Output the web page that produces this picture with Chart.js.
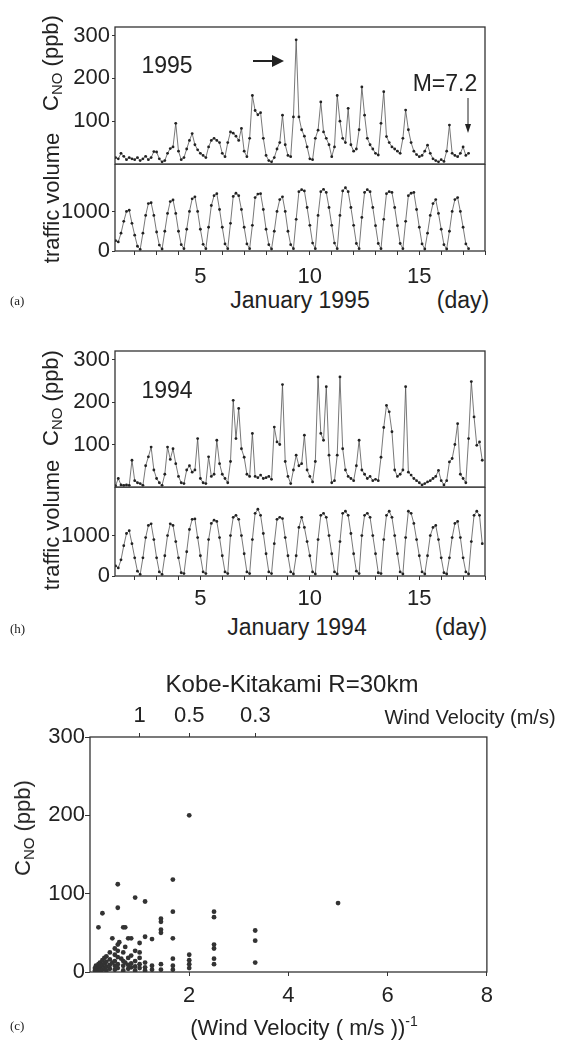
<!DOCTYPE html>
<html>
<head>
<meta charset="utf-8">
<script src="https://cdn.jsdelivr.net/npm/chart.js@4.4.0/dist/chart.umd.min.js"></script>
<style>
  body { margin: 0; background: #fff; }
  #page { position: relative; width: 564px; height: 1045px; overflow: hidden; }
  canvas { position: absolute; }
  .t { position: absolute; font-family: "Liberation Sans", Arial, sans-serif; font-size: 22px; color: #222; white-space: nowrap; line-height: 1; transform: translate(-50%, -50%); }
  .r { transform: translate(-50%, -50%) rotate(-90deg); }
  .tag { font-family: "Liberation Serif", serif; font-size: 13px; transform: translate(0, -50%); }
  .t sub { font-size: 15px; vertical-align: -4px; }
  .t sup { font-size: 14px; vertical-align: 9px; }
  svg { position: absolute; left: 0; top: 0; }
</style>
</head>
<body>
<div id="page">
  <canvas id="cnoA" width="495" height="170" style="left:0;top:0"></canvas>
  <canvas id="trA" width="495" height="120" style="left:0;top:164px"></canvas>
  <canvas id="cnoB" width="495" height="163" style="left:0;top:330px"></canvas>
  <canvas id="trB" width="495" height="120" style="left:0;top:487px"></canvas>
  <canvas id="scC" width="500" height="350" style="left:0;top:690px"></canvas>

  <!-- panel (a) -->
  <div class="t r" style="left:52px;top:63px">C<sub>NO</sub> (ppb)</div>
  <div class="t r" style="left:52px;top:198px">traffic volume</div>
  <div class="t" style="left:167px;top:65px;font-size:23px">1995</div>
  <div class="t" style="left:445px;top:83px;font-size:23px">M=7.2</div>
  <div class="t" style="left:300px;top:300px;font-size:23px">January 1995</div>
  <div class="t" style="left:463px;top:300px;font-size:23px">(day)</div>
  <div class="t tag" style="left:10px;top:300px">(a)</div>

  <!-- panel (b) -->
  <div class="t r" style="left:52px;top:398px">C<sub>NO</sub> (ppb)</div>
  <div class="t r" style="left:52px;top:525px">traffic volume</div>
  <div class="t" style="left:167px;top:390px;font-size:23px">1994</div>
  <div class="t" style="left:297px;top:627px;font-size:23px">January 1994</div>
  <div class="t" style="left:461px;top:627px;font-size:23px">(day)</div>
  <div class="t tag" style="left:10px;top:628px">(h)</div>

  <!-- panel (c) -->
  <div class="t" style="left:292px;top:684px;font-size:24px">Kobe-Kitakami R=30km</div>
  <div class="t" style="left:470px;top:717px;font-size:20px">Wind Velocity (m/s)</div>
  <div class="t r" style="left:24px;top:828px">C<sub>NO</sub> (ppb)</div>
  <div class="t" style="left:304px;top:1026px">(Wind Velocity ( m/s ))<sup>-1</sup></div>
  <div class="t tag" style="left:10px;top:1025px">(c)</div>

  <svg width="564" height="1045">
    <line x1="253" y1="61" x2="274" y2="61" stroke="#222" stroke-width="2"/>
    <polygon points="284,61 272,55 272,67" fill="#222"/>
    <line x1="468" y1="98" x2="468" y2="126" stroke="#222" stroke-width="1"/>
    <polygon points="468,133 465,124 471,124" fill="#222"/>
  </svg>
</div>

<script>
// 3-hourly readings, first point at day 1.125
const t0 = 1.125, dt = 0.125;

const no1995 = [
  15, 12, 25, 18, 10, 15, 12,
  10, 15, 8, 12, 18, 10, 15, 29,
  28, 12, 5, 8, 25, 36, 40, 95,
  30, 10, 15, 35, 55, 71, 45, 33,
  25, 20, 15, 40, 55, 60, 55, 50,
  25, 17, 50, 75, 72, 65, 55, 83,
  30, 17, 60, 160, 125, 115, 120, 60,
  20, 8, 5, 15, 35, 50, 114, 45,
  20, 17, 110, 290, 110, 80, 65, 40,
  12, 10, 60, 79, 145, 75, 60, 45,
  17, 40, 160, 100, 60, 50, 130, 45,
  30, 35, 80, 180, 114, 60, 45, 35,
  25, 21, 95, 169, 64, 50, 40, 35,
  30, 25, 60, 126, 80, 50, 30, 22,
  17, 20, 30, 44, 25, 12, 8, 5,
  10, 6, 30, 91, 25, 20, 17, 25,
  40, 20, 25
];
const traffic1995 = [
  260, 230, 450, 750, 1000, 1030, 700,
  400, 120, 40, 450, 900, 1200, 1220, 900,
  480, 150, 50, 500, 950, 1250, 1290, 950,
  500, 160, 60, 550, 1000, 1320, 1370, 1000,
  550, 170, 60, 600, 1150, 1400, 1450, 1050,
  600, 180, 60, 700, 1380, 1460, 1400, 1050,
  600, 180, 60, 650, 1350, 1440, 1450, 1050,
  550, 160, 50, 500, 1000, 1300, 1370, 1000,
  500, 160, 60, 800, 1500, 1550, 1520, 1100,
  650, 200, 60, 900, 1500, 1560, 1480, 1100,
  650, 200, 60, 900, 1520, 1600, 1500, 1100,
  650, 190, 60, 850, 1480, 1550, 1500, 1100,
  640, 190, 60, 800, 1450, 1500, 1480, 1100,
  640, 190, 60, 750, 1400, 1460, 1480, 1050,
  600, 180, 50, 450, 900, 1200, 1300, 950,
  550, 160, 50, 500, 1000, 1300, 1350, 1000,
  600, 180, 60
];

const no1994 = [
  3, 20, 5, 4, 5, 4, 63,
  15, 10, 8, 4, 50, 71, 94, 40,
  20, 10, 4, 30, 94, 65, 90, 55,
  25, 10, 8, 40, 50, 35, 40, 114,
  20, 10, 8, 71, 25, 30, 110, 55,
  30, 20, 10, 60, 204, 114, 185, 90,
  70, 30, 25, 126, 25, 22, 28, 20,
  22, 25, 18, 141, 106, 100, 241, 60,
  25, 8, 40, 75, 50, 55, 122, 40,
  25, 12, 60, 259, 126, 110, 236, 75,
  10, 15, 75, 259, 90, 40, 25, 20,
  15, 50, 110, 40, 30, 20, 25, 15,
  18, 15, 70, 140, 192, 177, 130, 40,
  25, 30, 40, 236, 35, 28, 20, 15,
  10, 5, 8, 12, 15, 20, 25, 39,
  15, 5, 15, 59, 67, 100, 149, 30,
  20, 10, 114, 248, 165, 98, 106, 63
];
const traffic1994 = [
  250, 200, 400, 750, 1050, 1120, 800,
  450, 120, 40, 450, 950, 1250, 1290, 900,
  450, 100, 40, 500, 1000, 1290, 1250, 850,
  450, 80, 60, 600, 1150, 1400, 1410, 950,
  500, 100, 60, 900, 1300, 1380, 1350, 950,
  500, 100, 60, 1000, 1450, 1500, 1400, 1000,
  550, 100, 60, 900, 1550, 1650, 1500, 1050,
  550, 100, 60, 800, 1400, 1450, 1420, 950,
  500, 100, 50, 500, 1200, 1450, 1200, 850,
  500, 100, 50, 900, 1500, 1550, 1450, 1000,
  550, 100, 50, 850, 1550, 1600, 1500, 1050,
  550, 120, 60, 1000, 1500, 1550, 1450, 1000,
  550, 80, 60, 900, 1500, 1600, 1450, 1000,
  550, 100, 50, 950, 1600, 1550, 1300, 900,
  500, 100, 50, 500, 1000, 1200, 1250, 900,
  450, 80, 50, 450, 950, 1300, 1350, 950,
  450, 100, 50, 850, 1500, 1600, 1500, 800
];

// scatter (c): inverse wind velocity vs C_NO
const windInv = [
  0.1, 0.1, 0.12, 0.12, 0.14, 0.14, 0.17, 0.17, 0.2, 0.2, 0.2, 0.22, 0.25, 0.25, 0.25,
  0.29, 0.29, 0.29, 0.33, 0.33, 0.33, 0.33, 0.4, 0.4, 0.4, 0.4, 0.45, 0.5, 0.5, 0.5, 0.5, 0.5,
  0.56, 0.56, 0.56, 0.63, 0.67, 0.67, 0.67, 0.67, 0.71, 0.77, 0.77, 0.77, 0.83, 0.83, 0.83,
  0.91, 0.91, 0.91, 0.91, 1.0, 1.0, 1.0, 1.11, 1.11, 1.11, 1.25, 1.25, 1.43, 1.43, 1.67,
  0.17, 0.25, 0.45, 0.56, 0.56, 0.56, 0.56, 0.59, 0.67, 0.71, 0.71, 0.77, 0.83, 0.91, 1.0, 1.0,
  1.11, 1.11, 1.25, 1.43, 1.43, 1.43, 1.43, 1.67, 1.67, 1.67, 1.67, 1.67, 2, 2, 2, 2, 2,
  2.5, 2.5, 2.5, 2.5, 2.5, 2.5, 3.33, 3.33, 3.33, 5
];
const windNO = [
  2, 5, 8, 3, 6, 1, 10, 4, 12, 6, 2, 8, 15, 9, 3,
  18, 11, 5, 20, 13, 7, 2, 25, 16, 9, 4, 12, 30, 22, 14, 8, 3,
  19, 10, 5, 17, 25, 14, 8, 2, 12, 18, 9, 4, 21, 11, 6,
  27, 14, 7, 2, 18, 10, 5, 12, 6, 2, 8, 3, 10, 3, 3,
  57, 75, 43, 112, 82, 35, 27, 38, 57, 57, 32, 43, 43, 95, 37, 25,
  90, 45, 42, 68, 64, 54, 50, 118, 77, 43, 17, 8, 200, 22, 15, 10, 5,
  77, 70, 35, 30, 17, 10, 53, 40, 12, 88
];

const dayTicks = [2, 3, 4, 5, 6, 7, 8, 9, 10, 11, 12, 13, 14, 15, 16, 17, 18];
const noTicks = [100, 200, 300];
const trafficTicks = [0, 1000];
const cTicksX = [2, 4, 6, 8];
const cTicksY = [0, 100, 200, 300];
const windVel = [1, 0.5, 0.3];

const ink = "#222";
const font = { family: "'Liberation Sans', Arial, sans-serif", size: 22 };

// draws the closed box round the plot area
const frame = {
  id: "frame",
  afterDraw(chart) {
    const a = chart.chartArea, ctx = chart.ctx;
    ctx.save();
    ctx.strokeStyle = "#333";
    ctx.lineWidth = 1.3;
    ctx.strokeRect(a.left, a.top, a.right - a.left, a.bottom - a.top);
    ctx.restore();
  }
};

const toPts = vals => vals.map((v, i) => ({ x: t0 + i * dt, y: v }));
const setTicks = list => s => { s.ticks = list.map(v => ({ value: v })); };

function seriesChart(id, vals, ymax, yTicks, pad, xHeight, xPad) {
  return new Chart(document.getElementById(id), {
    type: "line",
    data: {
      datasets: [{
        data: toPts(vals),
        borderColor: "#555",
        borderWidth: 0.8,
        pointRadius: 1.4,
        pointBackgroundColor: ink,
        pointBorderWidth: 0,
        tension: 0
      }]
    },
    options: {
      responsive: false,
      animation: false,
      devicePixelRatio: 1,
      layout: { padding: pad, autoPadding: false },
      plugins: { legend: { display: false }, tooltip: { enabled: false } },
      scales: {
        x: {
          type: "linear",
          min: 1.1,
          max: 18,
          display: xHeight > 0,
          afterBuildTicks: setTicks(dayTicks),
          afterFit: s => { s.height = xHeight; s.paddingLeft = 0; s.paddingRight = 0; },
          ticks: { callback: v => (v % 5 === 0 ? String(v) : ""), font, color: ink, padding: xPad, maxRotation: 0, autoSkip: false },
          grid: { drawOnChartArea: false, tickLength: 4, color: "#333" },
          border: { display: false }
        },
        y: {
          min: 0,
          max: ymax,
          afterBuildTicks: setTicks(yTicks),
          afterFit: s => { s.width = 115; s.paddingTop = 0; s.paddingBottom = 0; },
          ticks: { callback: v => String(v), font, color: ink, padding: 2 },
          grid: { drawOnChartArea: false, tickLength: 3, color: "#333" },
          border: { display: false }
        }
      }
    },
    plugins: [frame]
  });
}

seriesChart("cnoA", no1995, 320, noTicks, { top: 27, right: 10, bottom: 6, left: 0 }, 0, 0);
seriesChart("trA", traffic1995, 2200, trafficTicks, { top: 0, right: 10, bottom: 0, left: 0 }, 33, 9);
seriesChart("cnoB", no1994, 320, noTicks, { top: 21, right: 10, bottom: 6, left: 0 }, 0, 0);
seriesChart("trB", traffic1994, 2200, trafficTicks, { top: 0, right: 10, bottom: 0, left: 0 }, 31, 6);

/* Scatter (c) */
new Chart(document.getElementById("scC"), {
  type: "scatter",
  data: {
    datasets: [{
      data: windInv.map((x, i) => ({ x, y: windNO[i] })),
      pointRadius: 2.4,
      backgroundColor: "#333",
      borderWidth: 0
    }]
  },
  options: {
    responsive: false,
    animation: false,
    devicePixelRatio: 1,
    layout: { padding: { top: 0, right: 10, bottom: 0, left: 0 }, autoPadding: false },
    plugins: { legend: { display: false }, tooltip: { enabled: false } },
    scales: {
      x: {
        type: "linear",
        min: 0,
        max: 8,
        afterBuildTicks: setTicks(cTicksX),
        afterFit: s => { s.height = 68; },
        ticks: { font, color: ink, padding: 7, maxRotation: 0 },
        grid: { drawOnChartArea: false, tickLength: 4, color: "#333" },
        border: { display: false }
      },
      x2: {
        type: "linear",
        position: "top",
        min: 0,
        max: 8,
        afterBuildTicks: s => { s.ticks = windVel.map(v => ({ value: 1 / v })); },
        afterFit: s => { s.height = 47; },
        ticks: { callback: (v, i) => String(windVel[i]), font, color: ink, padding: 4, maxRotation: 0 },
        grid: { drawOnChartArea: false, tickLength: 4, color: "#333" },
        border: { display: false }
      },
      y: {
        min: 0,
        max: 300,
        afterBuildTicks: setTicks(cTicksY),
        afterFit: s => { s.width = 90; },
        ticks: { font, color: ink, padding: 0 },
        grid: { drawOnChartArea: false, tickLength: 5, color: "#333" },
        border: { display: false }
      }
    }
  },
  plugins: [frame]
});
</script>
</body>
</html>
